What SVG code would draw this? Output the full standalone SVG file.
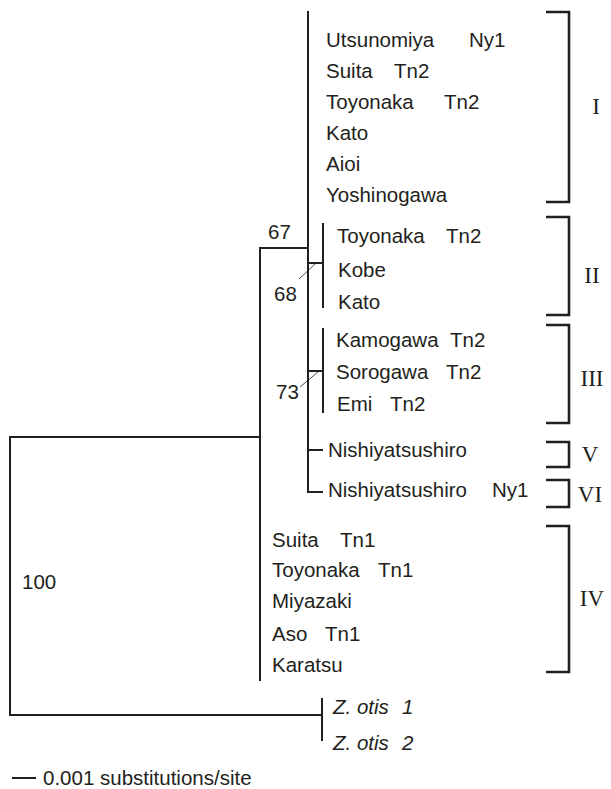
<svg xmlns="http://www.w3.org/2000/svg" width="611" height="789" viewBox="0 0 611 789">
  <style>
    .br { fill: none; stroke: #231f20; stroke-width: 2; stroke-linecap: square; }
    .bk { fill: none; stroke: #231f20; stroke-width: 2.6; }
    .ld { fill: none; stroke: #231f20; stroke-width: 0.8; }
    .tx { font-family: "Liberation Sans", Arial, sans-serif; font-size: 20.5px; fill: #231f20; }
    .it { font-style: italic; }
    .rn { font-family: "Liberation Serif", "Times New Roman", serif; font-size: 23px; fill: #231f20; text-anchor: middle; }
  </style>
  <rect width="611" height="789" fill="#ffffff"/>

  <!-- tree branches -->
  <g id="connectors">
    <!-- root -->
    <path class="br" d="M260,437 H10 V715 H322"/>
    <!-- ingroup backbone with clade IV tips -->
    <path class="br" d="M260,248 V680"/>
    <!-- node 67 -->
    <path class="br" d="M260,248 H308"/>
    <path class="br" d="M308,12 V492 H322"/>
    <path class="br" d="M308,450 H322"/>
    <!-- clade II -->
    <path class="br" d="M308,263 H323"/>
    <path class="br" d="M323,224 V307"/>
    <!-- clade III -->
    <path class="br" d="M308,371 H323"/>
    <path class="br" d="M323,329 V412"/>
    <!-- outgroup -->
    <path class="br" d="M322,699 V740"/>
    <!-- support-value leaders -->
    <path class="ld" d="M299,279 L315,264"/>
    <path class="ld" d="M300,387 L318,372"/>
  </g>

  <!-- clade I -->
  <g id="clade-I" class="tx">
    <text x="326" y="47">Utsunomiya<tspan x="469">Ny1</tspan></text>
    <text x="326" y="78">Suita<tspan x="394">Tn2</tspan></text>
    <text x="326" y="109">Toyonaka<tspan x="444">Tn2</tspan></text>
    <text x="326" y="140">Kato</text>
    <text x="326" y="171">Aioi</text>
    <text x="326" y="202">Yoshinogawa</text>
  </g>

  <!-- clade II -->
  <g id="clade-II" class="tx">
    <text x="337" y="243">Toyonaka<tspan x="446">Tn2</tspan></text>
    <text x="338" y="277">Kobe</text>
    <text x="338" y="309">Kato</text>
  </g>

  <!-- clade III -->
  <g id="clade-III" class="tx">
    <text x="336" y="347">Kamogawa<tspan x="450">Tn2</tspan></text>
    <text x="336" y="379">Sorogawa<tspan x="446">Tn2</tspan></text>
    <text x="337" y="411">Emi<tspan x="390">Tn2</tspan></text>
  </g>

  <!-- clades V and VI -->
  <g id="clade-V" class="tx">
    <text x="328" y="457">Nishiyatsushiro</text>
  </g>
  <g id="clade-VI" class="tx">
    <text x="328" y="497">Nishiyatsushiro<tspan x="492">Ny1</tspan></text>
  </g>

  <!-- clade IV -->
  <g id="clade-IV" class="tx">
    <text x="272" y="547">Suita<tspan x="340">Tn1</tspan></text>
    <text x="272" y="577">Toyonaka<tspan x="378">Tn1</tspan></text>
    <text x="272" y="608">Miyazaki</text>
    <text x="272" y="641">Aso<tspan x="325">Tn1</tspan></text>
    <text x="272" y="672">Karatsu</text>
  </g>

  <!-- outgroup -->
  <g id="outgroup" class="tx it">
    <text x="333" y="714">Z. otis<tspan x="402">1</tspan></text>
    <text x="333" y="750">Z. otis<tspan x="402">2</tspan></text>
  </g>

  <!-- bootstrap support -->
  <g id="support" class="tx">
    <text x="268" y="239">67</text>
    <text x="274" y="301">68</text>
    <text x="276" y="399">73</text>
    <text x="22" y="589">100</text>
  </g>

  <!-- clade brackets -->
  <g id="brackets">
    <path class="bk" d="M546,12 H569 V202 H546"/>
    <path class="bk" d="M546,217 H569 V315 H546"/>
    <path class="bk" d="M546,325 H569 V423 H546"/>
    <path class="bk" d="M546,442 H569 V467 H546"/>
    <path class="bk" d="M546,480 H569 V507 H546"/>
    <path class="bk" d="M546,526 H569 V672 H546"/>
    <text class="rn" x="596" y="114">I</text>
    <text class="rn" x="592" y="283">II</text>
    <text class="rn" x="592" y="386">III</text>
    <text class="rn" x="590" y="462">V</text>
    <text class="rn" x="590" y="502">VI</text>
    <text class="rn" x="592" y="606">IV</text>
  </g>

  <!-- scale bar -->
  <g id="scale">
    <path class="br" d="M13,778 H35" stroke-linecap="butt"/>
    <text class="tx" x="43" y="785">0.001 substitutions/site</text>
  </g>
</svg>
